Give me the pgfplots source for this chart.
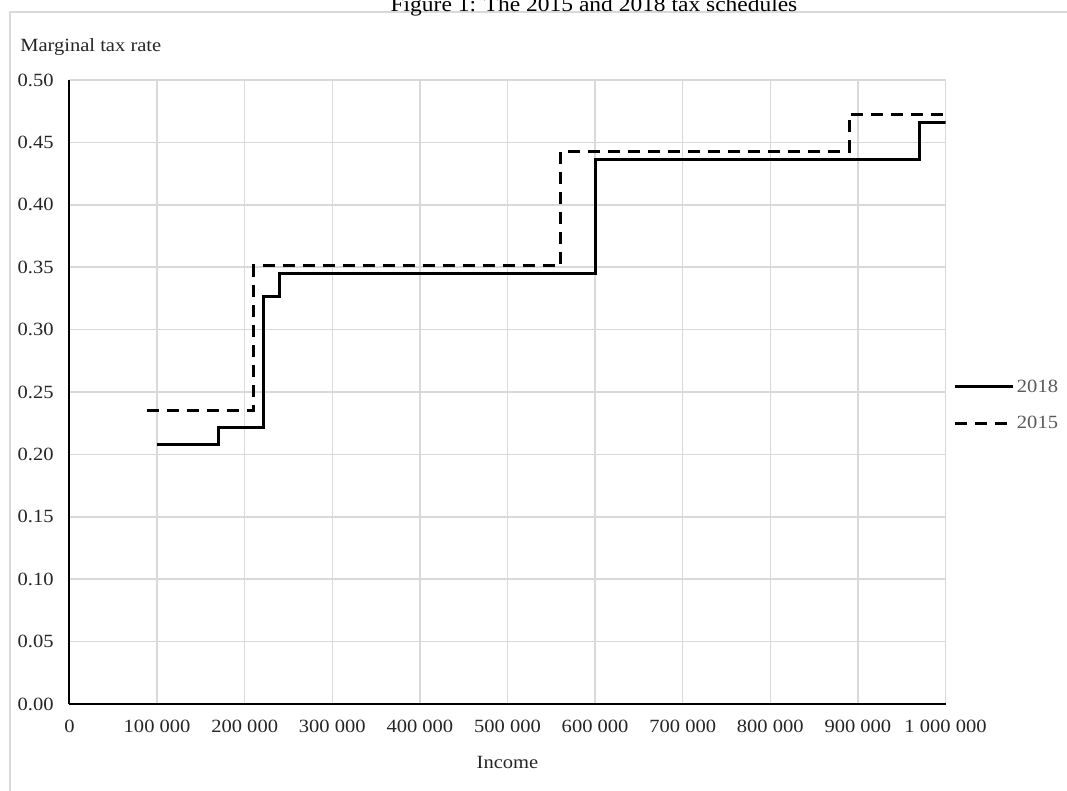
\documentclass[border=0pt]{standalone}
\usepackage{fontspec}
\setmainfont{Liberation Serif}[FakeStretch=1.1]
\usepackage{pgfplots}
\pgfplotsset{compat=1.18}
\definecolor{gridc}{HTML}{D9D9D9}
\definecolor{txt}{HTML}{262626}
\definecolor{legtxt}{HTML}{595959}
\newcommand{\tfont}{\fontsize{14}{16}\selectfont}
\begin{document}
\begin{tikzpicture}
\begin{scope}[x=0.75pt,y=-0.75pt]
\path[use as bounding box] (0,0) rectangle (1067,790);
\draw[gridc, line width=1.1pt] (10,12) rectangle (1200,900);
\node[anchor=base, font=\fontsize{16}{19}\selectfont, inner sep=0pt] at (594,11) {Figure 1: The 2015 and 2018 tax schedules};
\node[anchor=west, font=\tfont, inner sep=0pt, text=txt] at (20,47) {Marginal tax rate};
\end{scope}
\begin{axis}[
  at={(52.125pt,-528pt)}, anchor=south west,
  scale only axis, width=657pt, height=468pt,
  xmin=0, xmax=1000000, ymin=0, ymax=0.5,
  xtick={0,100000,200000,300000,400000,500000,600000,700000,800000,900000,1000000},
  xticklabels={0,100 000,200 000,300 000,400 000,500 000,600 000,700 000,800 000,900 000,1 000 000},
  ytick={0,0.05,0.1,0.15,0.2,0.25,0.3,0.35,0.4,0.45,0.5},
  yticklabels={0.00,0.05,0.10,0.15,0.20,0.25,0.30,0.35,0.40,0.45,0.50},
  scaled x ticks=false,
  grid=major, major grid style={gridc, line width=1.1pt},
  axis lines*=left, axis line style={black, line width=1.5pt},
  major tick length=0pt,
  tick label style={font=\tfont, text=txt},
  xticklabel style={yshift=-8.6pt},
  yticklabel style={xshift=-8.4pt},
  xlabel={Income},
  xlabel style={at={(axis description cs:0.5,0)}, anchor=center, yshift=-43.5pt, font=\tfont, text=txt},
  legend style={at={(1.0086,0.479)}, anchor=west, draw=none, fill=none, font=\tfont, text=legtxt,
     inner sep=0pt, row sep=13.5pt, nodes={inner sep=1.5pt}},
  legend cell align=left,
  legend image code/.code={\draw[#1] (0pt,0pt) -- (44pt,0pt);},
]
\addplot[black, line width=2.25pt, const plot] coordinates {
 (100000,0.208) (170000,0.2213) (221000,0.3264) (239500,0.345) (600000,0.436) (970000,0.466) (1000000,0.466)};
\addlegendentry{2018}
\addplot[black, line width=2.25pt, dash pattern=on 9pt off 6pt, const plot] coordinates {
 (88800,0.2352) (210600,0.3512) (560700,0.4426) (890000,0.4726) (1000000,0.4726)};
\addlegendentry{2015}
\end{axis}
\end{tikzpicture}
\end{document}
